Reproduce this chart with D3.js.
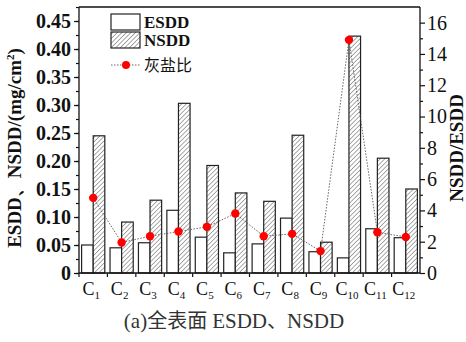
<!DOCTYPE html>
<html>
<head>
<meta charset="utf-8">
<script src="https://cdn.jsdelivr.net/npm/d3@7"></script>
<style>
  html, body { margin: 0; padding: 0; background: #fff; }
  svg { display: block; }
</style>
</head>
<body>
<svg id="chart" width="466" height="342"></svg>
<script>
// Sample sites
const categories = ["1","2","3","4","5","6","7","8","9","10","11","12"];
// Equivalent salt deposit density, mg/cm²
const esdd = [0.050, 0.045, 0.054, 0.112, 0.064, 0.036, 0.052, 0.098, 0.038, 0.027, 0.079, 0.063];
// Non-soluble deposit density, mg/cm²
const nsdd = [0.245, 0.091, 0.130, 0.303, 0.192, 0.143, 0.128, 0.246, 0.055, 0.423, 0.205, 0.150];
// Ash/salt ratio NSDD/ESDD
const ratio = [4.8, 1.95, 2.35, 2.65, 2.95, 3.8, 2.35, 2.5, 1.4, 14.9, 2.6, 2.3];
const leftTicks = [0, 0.05, 0.10, 0.15, 0.20, 0.25, 0.30, 0.35, 0.40, 0.45];
const rightTicks = [0, 2, 4, 6, 8, 10, 12, 14, 16];

const SERIF = "Liberation Serif";
const CJK = "Noto Sans CJK SC";

const svg = d3.select("#chart");
const L = 79, R = 420, T = 7, B = 273;

const x = d3.scaleBand(categories, [L, R]);
const sub = d3.scaleBand(["esdd", "nsdd"], [0, x.bandwidth()]).paddingOuter(0.225);
const yL = d3.scaleLinear([0, 0.475], [B, T]);
const yR = d3.scaleLinear([0, 17], [B, T]);

// hatch pattern for NSDD
const defs = svg.append("defs");
const pat = defs.append("pattern")
  .attr("id", "hatch").attr("patternUnits", "userSpaceOnUse")
  .attr("width", 3.2).attr("height", 3.2)
  .attr("patternTransform", "rotate(45)");
pat.append("rect").attr("width", 3.2).attr("height", 3.2).attr("fill", "#fff");
pat.append("line").attr("x1", 0).attr("y1", 0).attr("x2", 0).attr("y2", 3.2)
  .attr("stroke", "#555").attr("stroke-width", 1);

// bars
const g = svg.append("g");
categories.forEach((c, i) => {
  g.append("rect")
    .attr("x", x(c) + sub("esdd")).attr("y", yL(esdd[i]))
    .attr("width", sub.bandwidth()).attr("height", B - yL(esdd[i]))
    .attr("fill", "#fff").attr("stroke", "#222").attr("stroke-width", 1.2);
  g.append("rect")
    .attr("x", x(c) + sub("nsdd")).attr("y", yL(nsdd[i]))
    .attr("width", sub.bandwidth()).attr("height", B - yL(nsdd[i]))
    .attr("fill", "url(#hatch)").attr("stroke", "#222").attr("stroke-width", 1.2);
});

// ratio line
const cx = c => x(c) + x.bandwidth() / 2;
svg.append("path")
  .datum(ratio)
  .attr("d", d3.line().x((d, i) => cx(categories[i])).y(d => yR(d)))
  .attr("fill", "none").attr("stroke", "#555").attr("stroke-width", 0.9)
  .attr("stroke-dasharray", "1.5,1.5");
svg.selectAll("circle.pt").data(ratio).join("circle")
  .attr("class", "pt")
  .attr("cx", (d, i) => cx(categories[i])).attr("cy", d => yR(d))
  .attr("r", 4.2).attr("fill", "#f00");

// frame
svg.append("line").attr("x1", L).attr("x2", R).attr("y1", T).attr("y2", T)
  .attr("stroke", "#111").attr("stroke-width", 1.3);

// left axis
const minorL = d3.range(0, 0.4751, 0.025);
const axL = svg.append("g").attr("transform", `translate(${L},0)`)
  .call(d3.axisLeft(yL).tickValues(minorL).tickSize(3).tickFormat(""));
axL.select(".domain").remove();
axL.selectAll("line").attr("stroke", "#111").attr("stroke-width", 1.2);
const axL2 = svg.append("g").attr("transform", `translate(${L},0)`)
  .call(d3.axisLeft(yL).tickValues(leftTicks).tickSize(5).tickPadding(3)
    .tickFormat(d => d === 0 ? "0" : d3.format(".2f")(d)));
axL2.select(".domain").attr("d", `M0,${T}V${B}`).attr("stroke", "#111").attr("stroke-width", 1.3);
axL2.selectAll("line").attr("stroke", "#111").attr("stroke-width", 1.2);
axL2.selectAll("text").style("font-family", SERIF).style("font-size", "20px")
  .style("font-weight", "bold").attr("fill", "#111");

// right axis
const axR = svg.append("g").attr("transform", `translate(${R},0)`)
  .call(d3.axisRight(yR).tickValues(d3.range(1, 17, 2)).tickSize(3).tickFormat(""));
axR.select(".domain").remove();
axR.selectAll("line").attr("stroke", "#111").attr("stroke-width", 1.2);
const axR2 = svg.append("g").attr("transform", `translate(${R},0)`)
  .call(d3.axisRight(yR).tickValues(rightTicks).tickSize(5).tickPadding(2));
axR2.select(".domain").attr("d", `M0,${T}V${B}`).attr("stroke", "#111").attr("stroke-width", 1.3);
axR2.selectAll("line").attr("stroke", "#111").attr("stroke-width", 1.2);
axR2.selectAll("text").style("font-family", SERIF).style("font-size", "20px")
  .attr("fill", "#111");

// bottom axis
const axB = svg.append("g").attr("transform", `translate(0,${B})`);
axB.append("line").attr("x1", L).attr("x2", R).attr("stroke", "#111").attr("stroke-width", 1.3);
categories.forEach(c => {
  axB.append("line").attr("x1", x(c)).attr("x2", x(c)).attr("y1", 0).attr("y2", 4)
    .attr("stroke", "#111").attr("stroke-width", 1.2);
  const t = axB.append("text").attr("x", cx(c) - 2).attr("y", 22)
    .attr("text-anchor", "middle")
    .style("font-family", SERIF).style("font-size", "18px").attr("fill", "#111");
  t.append("tspan").text("C");
  t.append("tspan").style("font-size", "11px").attr("dy", 4).text(c);
});

// axis titles
svg.append("text")
  .attr("transform", `translate(21,${(T + B) / 2 + 8}) rotate(-90)`)
  .attr("text-anchor", "middle")
  .style("font-family", SERIF).style("font-size", "19px").style("font-weight", "bold")
  .attr("fill", "#111")
  .call(t => {
    t.append("tspan").text("ESDD、NSDD/(mg/cm");
    t.append("tspan").style("font-size", "11px").attr("dy", -7).text("2");
    t.append("tspan").attr("dy", 7).text(")");
  });
svg.append("text")
  .attr("transform", `translate(463,148) rotate(-90)`)
  .attr("text-anchor", "middle")
  .style("font-family", SERIF).style("font-size", "19px").style("font-weight", "bold")
  .attr("fill", "#111")
  .text("NSDD/ESDD");

// legend
const lg = svg.append("g");
lg.append("rect").attr("x", 111).attr("y", 14).attr("width", 29).attr("height", 16)
  .attr("fill", "#fff").attr("stroke", "#222").attr("stroke-width", 1.2);
lg.append("rect").attr("x", 111).attr("y", 32).attr("width", 29).attr("height", 16)
  .attr("fill", "url(#hatch)").attr("stroke", "#222").attr("stroke-width", 1.2);
lg.append("line").attr("x1", 111).attr("x2", 140).attr("y1", 65).attr("y2", 65)
  .attr("stroke", "#555").attr("stroke-width", 0.9).attr("stroke-dasharray", "1.5,1.5");
lg.append("circle").attr("cx", 126).attr("cy", 65).attr("r", 4).attr("fill", "#f00");
[["ESDD", 28], ["NSDD", 46]].forEach(([s, yy]) => {
  lg.append("text").attr("x", 144).attr("y", yy)
    .style("font-family", SERIF).style("font-size", "17px").style("font-weight", "bold")
    .attr("fill", "#111").text(s);
});
lg.append("text").attr("x", 144).attr("y", 71)
  .style("font-family", CJK).style("font-size", "16px").attr("fill", "#111").text("灰盐比");

// caption
svg.append("text").attr("x", 234).attr("y", 328).attr("text-anchor", "middle")
  .attr("fill", "#333").style("font-family", SERIF).style("font-size", "21px")
  .call(t => {
    t.append("tspan").text("(a)");
    t.append("tspan").style("font-family", CJK).style("font-size", "20px").text("全表面");
    t.append("tspan").attr("dx", 5).text("ESDD");
    t.append("tspan").style("font-family", CJK).style("font-size", "20px").text("、");
    t.append("tspan").text("NSDD");
  });
</script>
</body>
</html>
